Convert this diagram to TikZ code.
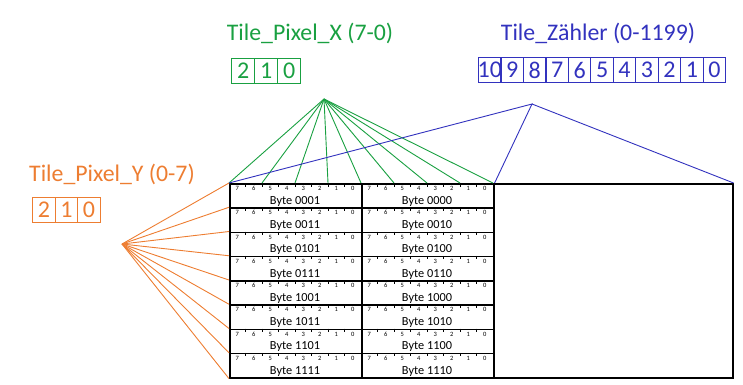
\documentclass[tikz,border=0pt]{standalone}
\usepackage{fontspec}
\setmainfont{Carlito}
\definecolor{tgreen}{RGB}{25,160,65}
\definecolor{tblue}{RGB}{50,50,190}
\definecolor{torange}{RGB}{237,125,49}
\begin{document}
\begin{tikzpicture}[x=1pt,y=-1pt,
  title/.style={font=\fontsize{23.8}{26}\selectfont, inner sep=0pt},
  regcell/.style={draw, line width=1.2pt, minimum width=#1, minimum height=25pt, inner sep=0pt, font=\fontsize{24}{26}\selectfont, anchor=north west},
  bytebox/.style={draw=black, line width=1.6pt, minimum width=132pt, minimum height=24.25pt, inner sep=0pt, anchor=north west},
  bitnum/.style={font=\fontsize{6.5}{7}\selectfont, inner sep=0pt},
  bytelbl/.style={font=\fontsize{12.3}{14}\selectfont, inner sep=0pt},
  conn/.style={line width=0.9pt}]
\useasboundingbox (0,0) rectangle (743,384);

% titles
\node[title, text=tgreen] (tx) at (310,33) {Tile\_Pixel\_X (7-0)};
\node[title, text=tblue] (tz) at (598,33) {Tile\_Zähler (0-1199)};
\node[title, text=torange] (ty) at (112,174) {Tile\_Pixel\_Y (0-7)};

% registers
\foreach \d [count=\k from 0] in {2,1,0}
  \node[regcell=23pt, draw=tgreen, text=tgreen] (gx\k) at ({231+23*\k},58) {\d};
\foreach \d [count=\k from 0] in {2,1,0}
  \node[regcell=22.5pt, draw=torange, text=torange] (oy\k) at ({32+22.5*\k},197) {\d};
\foreach \d [count=\k from 0] in {10,9,8,7,6,5,4,3,2,1,0}
  \node[regcell=22.45pt, draw=tblue, text=tblue] (bz\k) at ({478+22.45*\k},57) {\makebox[0pt]{\d}};

% apex points
\coordinate (ga) at (324,99);
\coordinate (ba) at (532,104);
\coordinate (oa) at (122,244);

% tile area
\node[draw=black, line width=1.6pt, minimum width=503pt, minimum height=194pt, inner sep=0pt, anchor=north west] (tiles) at (229,183) {};

\foreach \i/\l/\r in {0/0001/0000,1/0011/0010,2/0101/0100,3/0111/0110,4/1001/1000,5/1011/1010,6/1101/1100,7/1111/1110}{
  \node[bytebox] (L\i) at (229,{183+24.25*\i}) {};
  \node[bytebox] (R\i) at (361,{183+24.25*\i}) {};
  \node[bytelbl] (lL\i) at (295,{183+24.25*\i+18.3}) {Byte \l};
  \node[bytelbl] (lR\i) at (427,{183+24.25*\i+18.3}) {Byte \r};
  \foreach \c in {229,361}{
    \foreach \k in {0,...,7}{
      \pgfmathtruncatemacro{\b}{7-\k}
      \node[bitnum] at ({\c+8.25+16.5*\k},{183+24.25*\i+5.5}) {\b};
    }
    \foreach \k in {1,...,7}
      \draw[line width=0.8pt] ({\c+16.5*\k},{183+24.25*\i}) -- ++(0,3.5);
  }
}

% pixel boundary points
\foreach \k in {0,...,8}
  \coordinate (px\k) at ({229+33*\k},183);

% green connectors
\foreach \k in {0,...,8}
  \draw[conn, tgreen] (ga) -- (px\k);

% orange connectors
\foreach \i in {0,...,7}
  \draw[conn, torange] (oa) -- (L\i.north west);
\draw[conn, torange] (oa) -- (L7.south west);

% blue connectors
\draw[conn, tblue] (L0.north west) -- (ba) -- (R0.north east);
\draw[conn, tblue] (ba) -- (tiles.north east);
\end{tikzpicture}
\end{document}
